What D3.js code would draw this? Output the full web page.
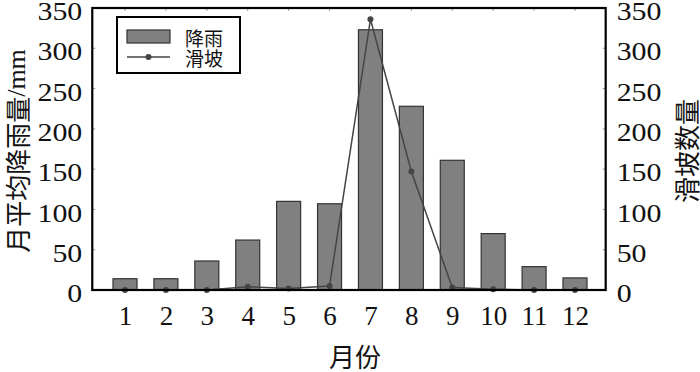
<!DOCTYPE html>
<html>
<head>
<meta charset="utf-8">
<script src="https://cdn.jsdelivr.net/npm/d3@7"></script>
<style>
  body { margin: 0; background: #fff; }
</style>
</head>
<body>
<div id="chart"></div>
<script>
// data
const months = [1, 2, 3, 4, 5, 6, 7, 8, 9, 10, 11, 12];
const rainfall = [14, 14, 36, 62, 110, 107, 323, 228, 161, 70, 29, 15];
const landslides = [0, 0, 0, 4, 2, 5, 336, 147, 3, 1, 0, 0];
const yTicks = [0, 50, 100, 150, 200, 250, 300, 350];
const legendLabels = ['降雨', '滑坡'];

const W = 700, H = 372;
const SERIF = '"Liberation Serif", "Times New Roman", serif';
const CJK = '"Noto Sans CJK SC", sans-serif';

const svg = d3.select('#chart').append('svg')
	.attr('width', W)
	.attr('height', H);

//// scales
const x = d3.scaleLinear().domain([1, 12]).range([125, 575]);
const y = d3.scaleLinear().domain([0, 350]).range([290, 8]);
const yR = d3.scaleLinear().domain([0, 350]).range([290, 8]);

const pLeft = x(0.2), pRight = x(12.75);
const pTop = y(350), pBottom = y(0);
const barW = 24;

//// inward ticks
const tickG = svg.append('g').attr('stroke', '#999').attr('stroke-width', 1);
yTicks.slice(1, -1).forEach(t => {
	tickG.append('line').attr('x1', pLeft).attr('x2', pLeft + 3).attr('y1', y(t)).attr('y2', y(t));
	tickG.append('line').attr('x1', pRight - 3).attr('x2', pRight).attr('y1', yR(t)).attr('y2', yR(t));
});
months.forEach(m => {
	tickG.append('line').attr('x1', x(m)).attr('x2', x(m)).attr('y1', pTop).attr('y2', pTop + 3);
});

//// bars
svg.append('g').selectAll('rect')
	.data(months)
	.enter()
	.append('rect')
	.attr('x', (d, i) => x(d) - barW / 2)
	.attr('y', (d, i) => y(rainfall[i]))
	.attr('width', barW)
	.attr('height', (d, i) => y(0) - y(rainfall[i]))
	.attr('fill', '#808080')
	.attr('stroke', '#333')
	.attr('stroke-width', 1.2);

//// landslide line
const line = d3.line()
	.x((d, i) => x(months[i]))
	.y(d => yR(d));

svg.append('path')
	.datum(landslides)
	.attr('d', line)
	.attr('fill', 'none')
	.attr('stroke', '#454545')
	.attr('stroke-width', 1.5);

svg.append('g').selectAll('circle')
	.data(landslides)
	.enter()
	.append('circle')
	.attr('cx', (d, i) => x(months[i]))
	.attr('cy', d => yR(d))
	.attr('r', 3)
	.attr('fill', '#454545');

//// frame
svg.append('rect')
	.attr('x', pLeft).attr('y', pTop)
	.attr('width', pRight - pLeft).attr('height', pBottom - pTop)
	.attr('fill', 'none')
	.attr('stroke', '#000')
	.attr('stroke-width', 2.2);

//// axis labels (digits a bit wide in the original, so stretch them)
const styleNums = sel => sel
	.style('font-family', SERIF)
	.attr('font-size', 26)
	.attr('fill', '#111');

const yLeft = d3.axisLeft(y).tickValues(yTicks).tickSize(0).tickPadding(0);
svg.append('g')
	.attr('transform', `translate(${pLeft - 10},0)`)
	.call(yLeft)
	.call(g => g.select('.domain').remove())
	.selectAll('text')
	.call(styleNums)
	.attr('transform', 'scale(1.15,1)')
	.attr('dy', '0.45em');

const yRight = d3.axisRight(yR).tickValues(yTicks).tickSize(0).tickPadding(0);
svg.append('g')
	.attr('transform', `translate(${pRight + 11},0)`)
	.call(yRight)
	.call(g => g.select('.domain').remove())
	.selectAll('text')
	.call(styleNums)
	.attr('transform', 'scale(1.15,1)')
	.attr('dy', '0.45em');

const xAxis = d3.axisBottom(x).tickValues(months).tickSize(0).tickPadding(16).tickFormat(d3.format('d'));
svg.append('g')
	.attr('transform', `translate(0,${pBottom})`)
	.call(xAxis)
	.call(g => g.select('.domain').remove())
	.selectAll('text')
	.call(styleNums)
	.attr('font-size', 27);

//// titles
svg.append('text')
	.style('font-family', CJK)
	.attr('x', 355).attr('y', 355)
	.attr('text-anchor', 'middle')
	.attr('dominant-baseline', 'central')
	.attr('font-size', 26)
	.attr('fill', '#111')
	.text('月份');

const yTitle = svg.append('text')
	.attr('transform', 'translate(16,151) rotate(-90)')
	.attr('text-anchor', 'middle')
	.attr('dominant-baseline', 'central')
	.attr('font-size', 26)
	.attr('fill', '#111');
yTitle.append('tspan').style('font-family', CJK).text('月平均降雨量');
yTitle.append('tspan').style('font-family', SERIF).text('/mm');

svg.append('text')
	.style('font-family', CJK)
	.attr('transform', 'translate(685,151) rotate(-90)')
	.attr('text-anchor', 'middle')
	.attr('dominant-baseline', 'central')
	.attr('font-size', 26)
	.attr('fill', '#111')
	.text('滑坡数量');

//// legend
const lg = svg.append('g');
lg.append('rect')
	.attr('x', 117).attr('y', 17).attr('width', 123).attr('height', 56)
	.attr('fill', '#fff').attr('stroke', '#000').attr('stroke-width', 2);
lg.append('rect')
	.attr('x', 127).attr('y', 30).attr('width', 43).attr('height', 13)
	.attr('fill', '#808080').attr('stroke', '#333').attr('stroke-width', 1.2);
lg.append('line')
	.attr('x1', 127).attr('x2', 170).attr('y1', 57).attr('y2', 57)
	.attr('stroke', '#454545').attr('stroke-width', 1.5);
lg.append('circle').attr('cx', 148.5).attr('cy', 57).attr('r', 3).attr('fill', '#454545');
lg.selectAll('text.leg')
	.data(legendLabels)
	.enter()
	.append('text')
	.attr('class', 'leg')
	.style('font-family', CJK)
	.attr('x', 185)
	.attr('y', (d, i) => 37 + i * 20)
	.attr('dominant-baseline', 'central')
	.attr('font-size', 19)
	.attr('fill', '#111')
	.text(d => d);
</script>
</body>
</html>
